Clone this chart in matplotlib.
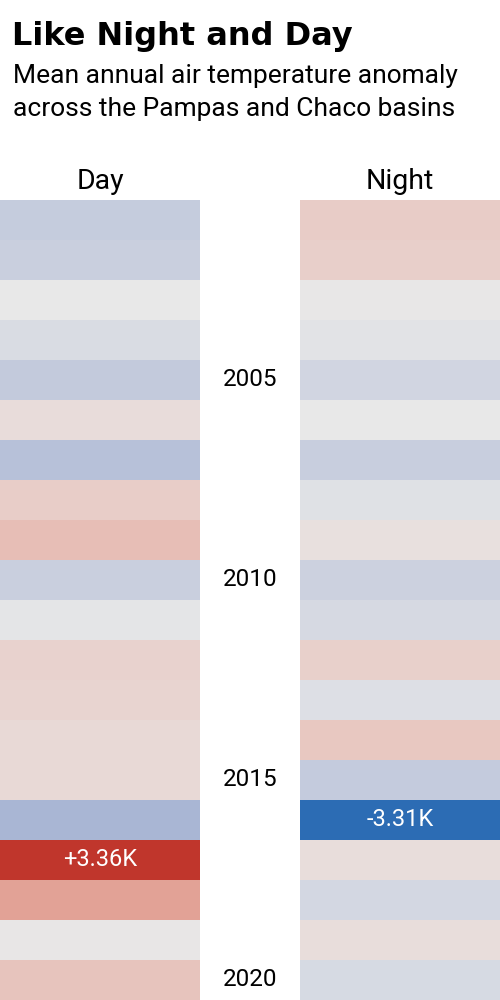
import matplotlib
matplotlib.use('Agg')
import matplotlib.pyplot as plt
import matplotlib.transforms as mtransforms
from matplotlib.colors import ListedColormap, TwoSlopeNorm, to_rgb
import numpy as np

# дані: аномалія температури, K
years = list(range(2001, 2021))
day_anom = [-0.70, -0.63, -0.01, -0.30, -0.76, 0.23, -0.99, 0.53, 0.82, -0.63,
            -0.07, 0.42, 0.40, 0.29, 0.29, -1.27, 3.36, 1.38, 0.03, 0.72]
night_anom = [0.54, 0.49, 0.02, -0.12, -0.47, 0.00, -0.64, -0.17, 0.17, -0.58,
              -0.37, 0.48, -0.22, 0.63, -0.72, -3.31, 0.22, -0.42, 0.21, -0.36]
year_labels = [2005, 2010, 2015, 2020]
columns = ['Day', 'Night']


def srgb_to_lab(rgb):
    c = np.asarray(rgb, dtype=float)
    lin = np.where(c <= 0.04045, c / 12.92, ((c + 0.055) / 1.055) ** 2.4)
    m = np.array([[0.4124, 0.3576, 0.1805],
                  [0.2126, 0.7152, 0.0722],
                  [0.0193, 0.1192, 0.9505]])
    xyz = m @ lin / np.array([0.95047, 1.0, 1.08883])
    f = np.where(xyz > 0.008856, np.cbrt(xyz), 7.787 * xyz + 16 / 116)
    return np.array([116 * f[1] - 16, 500 * (f[0] - f[1]), 200 * (f[1] - f[2])])


def lab_to_srgb(lab):
    L, a, b = lab
    fy = (L + 16) / 116
    fx = fy + a / 500
    fz = fy - b / 200
    f = np.array([fx, fy, fz])
    xyz = np.where(f ** 3 > 0.008856, f ** 3, (f - 16 / 116) / 7.787)
    xyz = xyz * np.array([0.95047, 1.0, 1.08883])
    m = np.array([[3.2406, -1.5372, -0.4986],
                  [-0.9689, 1.8758, 0.0415],
                  [0.0557, -0.2040, 1.0570]])
    lin = m @ xyz
    c = np.where(lin <= 0.0031308, 12.92 * lin, 1.055 * np.clip(lin, 0, None) ** (1 / 2.4) - 0.055)
    return np.clip(c, 0, 1)


# колірна шкала: синій - сірий - червоний, інтерполяція в Lab
lab_blue = srgb_to_lab(to_rgb('#2c6cb4'))
lab_mid = srgb_to_lab(to_rgb('#e8e8e8'))
lab_red = srgb_to_lab(to_rgb('#c0362c'))
ramp = []
for p in np.linspace(0, 1, 512):
    if p < 0.5:
        t = (0.5 - p) / 0.5
        lab = lab_mid + (lab_blue - lab_mid) * t
    else:
        t = (p - 0.5) / 0.5
        lab = lab_mid + (lab_red - lab_mid) * t
    ramp.append(lab_to_srgb(lab))
cmap = ListedColormap(ramp)
norm = TwoSlopeNorm(vmin=-3.31, vcenter=0, vmax=3.36)

plt.rcParams['font.family'] = ['Roboto', 'DejaVu Sans']

fig = plt.figure(figsize=(5, 10), dpi=100)
fig.patch.set_facecolor('white')

fig.text(12 / 500, 1 - 45 / 1000, 'Like Night and Day', fontsize=23,
         fontweight='bold', family=['DejaVu Sans'], ha='left', va='baseline')
fig.text(13 / 500, 1 - 83 / 1000, 'Mean annual air temperature anomaly',
         fontsize=19, ha='left', va='baseline')
fig.text(13 / 500, 1 - 116 / 1000, 'across the Pampas and Chaco basins',
         fontsize=19, ha='left', va='baseline')

ax_day = fig.add_axes([0.0, 0.0, 0.4, 0.8])
ax_night = fig.add_axes([0.6, 0.0, 0.4, 0.8])

for ax, vals, name in [(ax_day, day_anom, columns[0]), (ax_night, night_anom, columns[1])]:
    vals = np.array(vals)
    ax.barh(years, 1, height=1, left=0, color=cmap(norm(vals)), linewidth=0)
    ax.set_xlim(0, 1)
    ax.set_ylim(years[-1] + 0.5, years[0] - 0.5)
    ax.axis('off')
    ax.text(0.5, 1 + 11 / 800, name, transform=ax.transAxes, fontsize=20.5,
            ha='center', va='baseline')
    # підпис екстремуму
    i = int(np.argmax(np.abs(vals)))
    v = vals[i]
    ax.text(0.5, years[i], f'{v:+.2f}K', color='white', fontsize=17,
            ha='center', va='center')

trans = mtransforms.blended_transform_factory(fig.transFigure, ax_day.transData)
for y in year_labels:
    fig.text(0.5, y, str(y), transform=trans, fontsize=17.5, ha='center', va='center')

fig.savefig('out.png', dpi=100, facecolor='white')
